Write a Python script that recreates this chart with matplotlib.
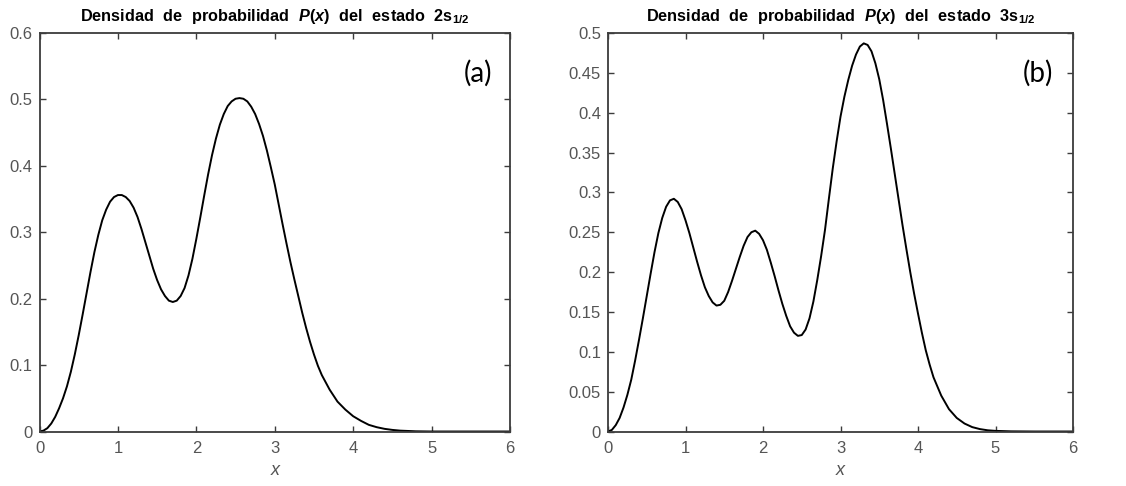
import matplotlib
matplotlib.use("Agg")
import matplotlib.pyplot as plt
from matplotlib.ticker import FuncFormatter

# ---- data ----
x_2s = [0.00, 0.05, 0.10, 0.15, 0.20, 0.25, 0.30, 0.35, 0.40, 0.45, 0.50, 0.55, 0.60,
        0.65, 0.70, 0.75, 0.80, 0.85, 0.90, 0.95, 1.00, 1.05, 1.10, 1.15, 1.20, 1.25,
        1.30, 1.35, 1.40, 1.45, 1.50, 1.55, 1.60, 1.65, 1.70, 1.75, 1.80, 1.85, 1.90,
        1.95, 2.00, 2.05, 2.10, 2.15, 2.20, 2.25, 2.30, 2.35, 2.40, 2.45, 2.50, 2.55,
        2.60, 2.65, 2.70, 2.75, 2.80, 2.85, 2.90, 2.95, 3.00, 3.05, 3.10, 3.15, 3.20,
        3.25, 3.30, 3.35, 3.40, 3.45, 3.50, 3.55, 3.60, 3.70, 3.80, 3.90, 4.00, 4.10,
        4.20, 4.30, 4.40, 4.50, 4.60, 4.80, 5.00, 6.00]
p_2s = [0.0, 0.0013, 0.005, 0.012, 0.022, 0.035, 0.050, 0.068, 0.090, 0.116, 0.145,
        0.176, 0.208, 0.240, 0.270, 0.296, 0.318, 0.334, 0.346, 0.353, 0.356, 0.356,
        0.353, 0.347, 0.337, 0.323, 0.305, 0.285, 0.265, 0.245, 0.228, 0.214, 0.204,
        0.197, 0.195, 0.197, 0.204, 0.216, 0.235, 0.260, 0.290, 0.322, 0.355, 0.387,
        0.416, 0.441, 0.462, 0.478, 0.490, 0.497, 0.501, 0.502, 0.501, 0.497, 0.489,
        0.478, 0.463, 0.445, 0.423, 0.398, 0.372, 0.342, 0.312, 0.283, 0.255, 0.229,
        0.204, 0.179, 0.156, 0.135, 0.116, 0.099, 0.085, 0.063, 0.045, 0.033, 0.023,
        0.016, 0.010, 0.0065, 0.004, 0.0024, 0.0013, 0.0003, 0.0, 0.0]

x_3s = [0.00, 0.05, 0.10, 0.15, 0.20, 0.25, 0.30, 0.35, 0.40, 0.45, 0.50, 0.55, 0.60,
        0.65, 0.70, 0.75, 0.80, 0.85, 0.90, 0.95, 1.00, 1.05, 1.10, 1.15, 1.20, 1.25,
        1.30, 1.35, 1.40, 1.45, 1.50, 1.55, 1.60, 1.65, 1.70, 1.75, 1.80, 1.85, 1.90,
        1.95, 2.00, 2.05, 2.10, 2.15, 2.20, 2.25, 2.30, 2.35, 2.40, 2.45, 2.50, 2.55,
        2.60, 2.65, 2.70, 2.75, 2.80, 2.85, 2.90, 2.95, 3.00, 3.05, 3.10, 3.15, 3.20,
        3.25, 3.30, 3.35, 3.40, 3.45, 3.50, 3.55, 3.60, 3.65, 3.70, 3.75, 3.80, 3.85,
        3.90, 3.95, 4.00, 4.05, 4.10, 4.15, 4.20, 4.30, 4.40, 4.50, 4.60, 4.70, 4.80,
        4.90, 5.00, 5.20, 5.50, 6.00]
p_3s = [0.0, 0.002, 0.008, 0.017, 0.030, 0.046, 0.065, 0.089, 0.115, 0.142, 0.170,
        0.198, 0.225, 0.249, 0.268, 0.282, 0.290, 0.292, 0.288, 0.279, 0.265, 0.249,
        0.231, 0.213, 0.196, 0.181, 0.170, 0.162, 0.158, 0.159, 0.164, 0.175, 0.189,
        0.204, 0.219, 0.233, 0.244, 0.250, 0.252, 0.248, 0.240, 0.228, 0.212, 0.195,
        0.177, 0.160, 0.145, 0.132, 0.124, 0.120, 0.121, 0.128, 0.142, 0.163, 0.190,
        0.220, 0.253, 0.292, 0.330, 0.364, 0.395, 0.420, 0.441, 0.459, 0.473, 0.483,
        0.487, 0.485, 0.477, 0.462, 0.442, 0.416, 0.386, 0.355, 0.323, 0.291, 0.259,
        0.229, 0.200, 0.173, 0.148, 0.124, 0.102, 0.084, 0.068, 0.045, 0.028, 0.017,
        0.010, 0.0055, 0.003, 0.0015, 0.0008, 0.0002, 0.0, 0.0]

yticks_a = [0, 0.1, 0.2, 0.3, 0.4, 0.5, 0.6]
yticks_b = [0, 0.05, 0.1, 0.15, 0.2, 0.25, 0.3, 0.35, 0.4, 0.45, 0.5]
xticks = [0, 1, 2, 3, 4, 5, 6]
titles = [r'$\mathrm{Densidad\ \ de\ \ probabilidad}\ \ P\mathrm{(}x\mathrm{)}\ \ \mathrm{del\ \ estado\ \ 2s}_{\mathrm{1/2}}$',
          r'$\mathrm{Densidad\ \ de\ \ probabilidad}\ \ P\mathrm{(}x\mathrm{)}\ \ \mathrm{del\ \ estado\ \ 3s}_{\mathrm{1/2}}$']
panel_labels = ['(a)', '(b)']

plt.rcParams['font.family'] = ['Liberation Sans', 'DejaVu Sans']
plt.rcParams['mathtext.fontset'] = 'custom'
plt.rcParams['mathtext.rm'] = 'Liberation Sans:bold'
plt.rcParams['mathtext.it'] = 'Liberation Sans:bold:italic'
plt.rcParams['mathtext.bf'] = 'Liberation Sans:bold'

fig = plt.figure(figsize=(11.26, 4.86), dpi=100)
W, H = 1126.0, 486.0
axA = fig.add_axes([39.5 / W, (H - 431.5) / H, (510 - 39.5) / W, (431.5 - 33) / H])
axB = fig.add_axes([608 / W, (H - 431.5) / H, (1073 - 608) / W, (431.5 - 33) / H])

grey = '#555555'
spine_c = '#3c3c3c'

def fmt(v, pos):
    return '%g' % round(v, 4)

for ax, xs, ys, yt, ttl, lab, lx in [
        (axA, x_2s, p_2s, yticks_a, titles[0], panel_labels[0], 0.932),
        (axB, x_3s, p_3s, yticks_b, titles[1], panel_labels[1], 0.925)]:
    ax.plot(xs, ys, color='black', lw=1.4, solid_joinstyle='round')
    ax.set_xlim(0, 6)
    ax.set_ylim(yt[0], yt[-1])
    ax.set_xticks(xticks)
    ax.set_yticks(yt)
    ax.xaxis.set_major_formatter(FuncFormatter(fmt))
    ax.yaxis.set_major_formatter(FuncFormatter(fmt))
    ax.tick_params(direction='in', length=4, width=1.0, color=spine_c,
                   labelsize=12, labelcolor=grey, top=True, right=True)
    ax.tick_params(axis='x', pad=7)
    ax.tick_params(axis='y', pad=5)
    for s in ax.spines.values():
        s.set_color(spine_c)
        s.set_linewidth(1.3)
    ax.set_xlabel('x', fontsize=13, fontstyle='italic', color=grey, labelpad=4)
    ax.set_title(ttl, fontsize=11.7, pad=9, color='black')
    ax.text(lx, 0.9, lab, transform=ax.transAxes, ha='center', va='center',
            fontsize=20, family=['Lato', 'DejaVu Sans'], color='black')

fig.savefig('out.png', dpi=100)
